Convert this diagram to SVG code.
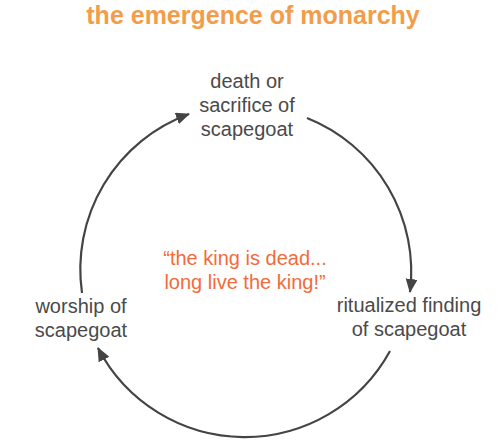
<svg xmlns="http://www.w3.org/2000/svg" width="500" height="444" viewBox="0 0 500 444">
<style>
.title{font-family:"Liberation Sans",Arial,sans-serif;font-size:25px;font-weight:bold;fill:#F29D4B;text-anchor:middle}
.node{font-family:"Liberation Sans",Arial,sans-serif;font-size:20px;fill:#4a4a4a;text-anchor:middle}
.quote{font-family:"Liberation Sans",Arial,sans-serif;font-size:20px;fill:#F26B3A;text-anchor:middle}
.arc{fill:none;stroke:#444;stroke-width:2.2;marker-end:url(#ah)}
</style>
<defs>
<marker id="ah" markerUnits="userSpaceOnUse" markerWidth="14" markerHeight="12" viewBox="0 0 14 12" refX="13" refY="6" orient="auto">
<path d="M0,0 L14,6 L0,12 Z" fill="#444"/>
</marker>
</defs>
<rect width="500" height="444" fill="#fff"/>
<text class="title" x="253" y="24">the emergence of monarchy</text>
<g id="connectors">
<path class="arc" d="M82,293 A165.5,165.5 0 0 1 189,114"/>
<path class="arc" d="M307,118 A165.5,165.5 0 0 1 410,292"/>
<path class="arc" d="M390,351 A165.5,165.5 0 0 1 98,348"/>
</g>
<g id="node-death">
<text class="node" x="247" y="88">death or</text>
<text class="node" x="247" y="112">sacrifice of</text>
<text class="node" x="247" y="136">scapegoat</text>
</g>
<g id="node-ritualized">
<text class="node" x="409" y="312">ritualized finding</text>
<text class="node" x="409" y="336">of scapegoat</text>
</g>
<g id="node-worship">
<text class="node" x="81" y="313">worship of</text>
<text class="node" x="81" y="337">scapegoat</text>
</g>
<g id="quote">
<text class="quote" x="245" y="265">“the king is dead...</text>
<text class="quote" x="245" y="289">long live the king!”</text>
</g>
</svg>
